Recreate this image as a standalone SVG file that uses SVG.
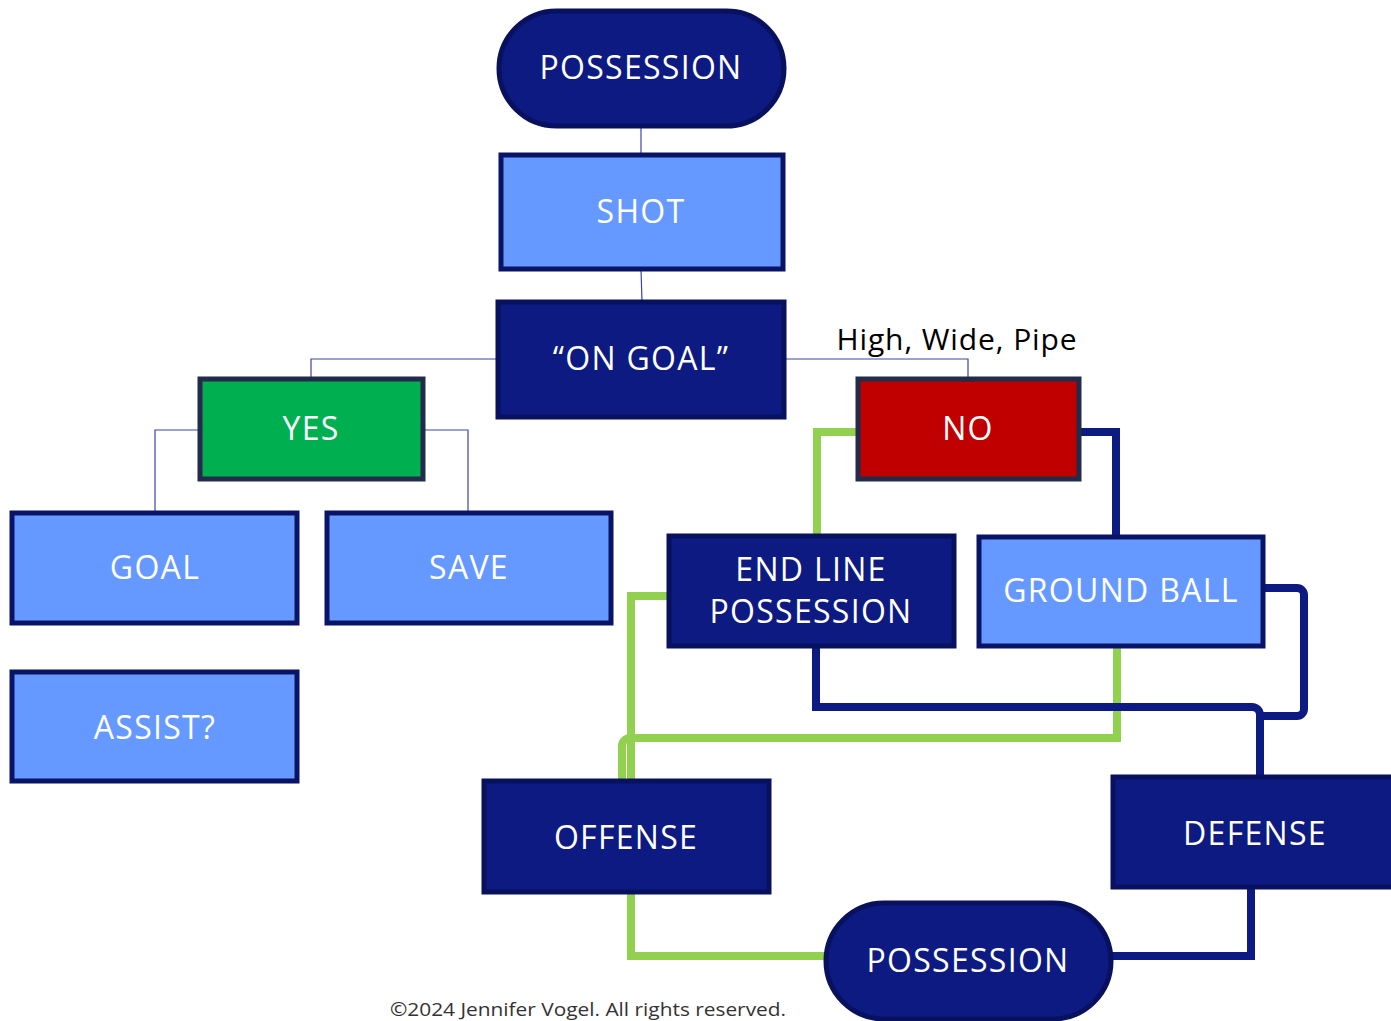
<svg xmlns="http://www.w3.org/2000/svg" width="1391" height="1021" viewBox="0 0 1391 1021">
<style>
.dark{fill:#0C1A82;stroke:#08115E;stroke-width:5}
.light{fill:#6699FF;stroke:#0A1466;stroke-width:5}
.lbl{font-family:"Open Sans","Noto Sans",sans-serif;font-size:32px;letter-spacing:1.3px;fill:#FFFFFF;text-anchor:middle}
.thin{fill:none;stroke:#3A47A0;stroke-width:1.2}
.green{fill:none;stroke:#92D050;stroke-width:8}
.blue{fill:none;stroke:#0C1A82;stroke-width:8}
</style>
<rect width="1391" height="1021" fill="#FFFFFF"/>
<g id="connectors">
<path class="thin" d="M641 126V155"/>
<path class="thin" d="M641 269L642 302"/>
<path class="thin" d="M498 359H311V379"/>
<path class="thin" d="M784 359H968V379"/>
<path class="thin" d="M200 430H155V513"/>
<path class="thin" d="M423 430H468V513"/>
<path class="green" d="M858 432H817V536"/>
<path class="blue" d="M1079 432H1116V537"/>
<path class="green" d="M669 596H631V781"/>
<path class="green" d="M1117 646V738H630A8 8 0 0 0 622 746V781"/>
<path class="blue" d="M816 646V707H1252A8 8 0 0 1 1260 715V777"/>
<path class="blue" d="M1263 588H1297A7 7 0 0 1 1304 595V709A7 7 0 0 1 1297 716H1260"/>
<path class="green" d="M631 892V956H826"/>
<path class="blue" d="M1111 956H1251V887"/>
</g>
<g id="possession-top">
<rect class="dark" x="499" y="11" width="285" height="115" rx="57.5"/>
<text class="lbl" x="641" y="79">POSSESSION</text>
</g>
<g id="shot">
<rect class="light" x="501" y="155" width="282" height="114"/>
<text class="lbl" x="641" y="223">SHOT</text>
</g>
<g id="on-goal">
<rect class="dark" x="498" y="302" width="286" height="115"/>
<text class="lbl" x="641" y="370">“ON GOAL”</text>
</g>
<g id="high-wide-pipe">
<text x="957" y="350" font-family="'Open Sans','Noto Sans',sans-serif" font-size="30" letter-spacing="0.9" fill="#000000" text-anchor="middle">High, Wide, Pipe</text>
</g>
<g id="yes">
<rect x="200" y="379" width="223" height="100" fill="#00B050" stroke="#232B4A" stroke-width="5"/>
<text class="lbl" x="311" y="440">YES</text>
</g>
<g id="no">
<rect x="858" y="379" width="221" height="100" fill="#C00000" stroke="#232B4A" stroke-width="5"/>
<text class="lbl" x="968" y="440">NO</text>
</g>
<g id="goal">
<rect class="light" x="12" y="513" width="285" height="110"/>
<text class="lbl" x="155" y="579">GOAL</text>
</g>
<g id="save">
<rect class="light" x="327" y="513" width="284" height="110"/>
<text class="lbl" x="469" y="579">SAVE</text>
</g>
<g id="assist">
<rect class="light" x="12" y="672" width="285" height="109"/>
<text class="lbl" x="155" y="739">ASSIST?</text>
</g>
<g id="end-line-possession">
<rect class="dark" x="669" y="536" width="285" height="110"/>
<text class="lbl" x="811" y="581">END LINE</text>
<text class="lbl" x="811" y="623">POSSESSION</text>
</g>
<g id="ground-ball">
<rect class="light" x="979" y="537" width="284" height="109"/>
<text class="lbl" x="1121" y="602">GROUND BALL</text>
</g>
<g id="offense">
<rect class="dark" x="484" y="781" width="285" height="111"/>
<text class="lbl" x="626" y="849">OFFENSE</text>
</g>
<g id="defense">
<rect class="dark" x="1113" y="777" width="284" height="110"/>
<text class="lbl" x="1255" y="845">DEFENSE</text>
</g>
<g id="possession-bottom">
<rect class="dark" x="826" y="903" width="285" height="116" rx="58"/>
<text class="lbl" x="968" y="972">POSSESSION</text>
</g>
<g id="footer">
<text x="390" y="1016" font-family="'Open Sans','Noto Sans',sans-serif" font-size="19" fill="#333333" textLength="396" lengthAdjust="spacingAndGlyphs">©2024 Jennifer Vogel. All rights reserved.</text>
</g>
</svg>
